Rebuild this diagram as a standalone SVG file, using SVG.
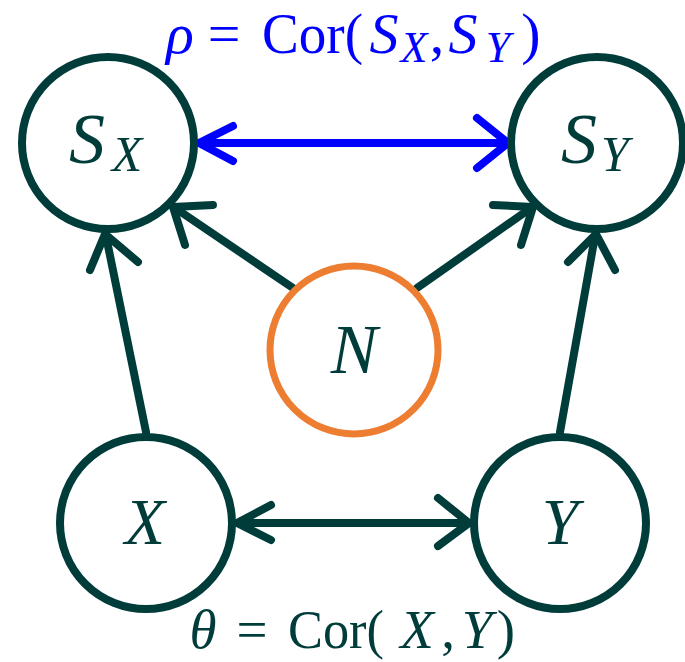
<svg xmlns="http://www.w3.org/2000/svg" width="685" height="662" viewBox="0 0 685 662">
<style>
.node{fill:#ffffff;stroke:#003c3a;stroke-width:8}
.noise{fill:#ffffff;stroke:#ed7d31;stroke-width:7}
.edge{fill:none;stroke:#003c3a;stroke-width:8;stroke-linecap:round;stroke-linejoin:round}
.corr{fill:none;stroke:#0000ff;stroke-width:8;stroke-linecap:round;stroke-linejoin:round}
text{font-family:"Liberation Serif","Times New Roman",serif;text-anchor:middle;fill:#003c3a}
.it{font-style:italic}
.st{text-anchor:start}
.blue{fill:#0000ff}
</style>
<g id="connectors">
<line class="corr" x1="200" y1="143" x2="507" y2="143"/>
<polyline class="corr" points="233,126 199,143 233,161"/>
<polyline class="corr" points="477,118 508,143 477,168"/>
<line class="edge" x1="293" y1="288" x2="175" y2="208"/>
<polyline class="edge" points="213,205 173,207 185,245"/>
<line class="edge" x1="417" y1="288" x2="531" y2="208"/>
<polyline class="edge" points="493,205 533,207 521,245"/>
<line class="edge" x1="146" y1="432" x2="106" y2="236"/>
<polyline class="edge" points="90,270 105,234 138,262"/>
<line class="edge" x1="560" y1="432" x2="595" y2="236"/>
<polyline class="edge" points="568,262 596,234 615,270"/>
<line class="edge" x1="238" y1="523" x2="468" y2="523"/>
<polyline class="edge" points="271,505 237,523 271,540"/>
<polyline class="edge" points="438,498 469,523 438,546"/>
</g>
<g id="node-SX">
<circle class="node" cx="108" cy="143" r="86"/>
<text class="it" x="87" y="163" font-size="72">S</text>
<text class="it" x="127" y="171" font-size="50">X</text>
</g>
<g id="node-SY">
<circle class="node" cx="597" cy="143" r="86"/>
<text class="it" x="579" y="163" font-size="72">S</text>
<text class="it" x="615" y="171" font-size="50">Y</text>
</g>
<g id="node-N">
<circle class="noise" cx="354" cy="350" r="84"/>
<text class="it" x="354" y="373" font-size="70">N</text>
</g>
<g id="node-X">
<circle class="node" cx="146" cy="523" r="86"/>
<text class="it" x="145" y="544" font-size="66">X</text>
</g>
<g id="node-Y">
<circle class="node" cx="560" cy="523" r="86"/>
<text class="it" x="560" y="544" font-size="66">Y</text>
</g>
<g id="label-rho" font-size="58">
<text class="it blue" x="180" y="53">ρ</text>
<text class="blue" x="224" y="53">=</text>
<text class="blue st" x="262" y="53" textLength="101" lengthAdjust="spacingAndGlyphs">Cor(</text>
<text class="it blue" x="384" y="53">S</text>
<text class="it blue" x="414" y="62" font-size="44">X</text>
<text class="blue" x="437" y="53">,</text>
<text class="it blue" x="463" y="53">S</text>
<text class="it blue" x="498" y="62" font-size="44">Y</text>
<text class="blue" x="531" y="53">)</text>
</g>
<g id="label-theta" font-size="55">
<text class="it" x="203" y="648">θ</text>
<text x="252" y="648">=</text>
<text class="st" x="288" y="648" textLength="96" lengthAdjust="spacingAndGlyphs">Cor(</text>
<text class="it" x="417" y="648">X</text>
<text x="448" y="648">,</text>
<text class="it" x="477" y="648">Y</text>
<text x="506" y="648">)</text>
</g>
</svg>
